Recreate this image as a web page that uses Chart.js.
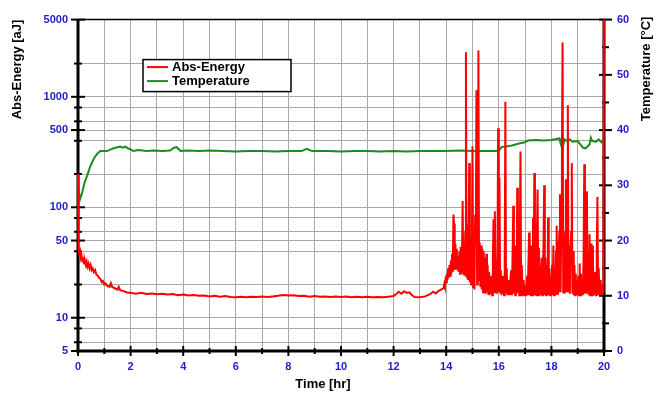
<!DOCTYPE html>
<html><head><meta charset="utf-8">
<script src="https://cdn.jsdelivr.net/npm/chart.js@4/dist/chart.umd.min.js"></script>
<style>html,body{margin:0;padding:0;background:#fff;}#wrap{width:669px;height:408px;position:relative;}</style>
</head><body><div id="wrap"><canvas id="c" width="669" height="408"></canvas></div>
<script>
// ---- data ----
const energyTime = [
 0,0.02,0.05,0.08,0.1,0.13,0.16,0.2,0.23,0.26,0.3,0.33,0.36,0.4,0.44,0.48,0.52,0.56,0.6,0.65,0.7,0.75,0.8,0.85,0.9,0.95,1.0,1.05,1.1,1.2,1.25,1.3,1.4,1.5,1.55,1.6,1.7,1.8,1.9,2.0,
 2.2,2.4,2.6,2.8,3.0,3.2,3.4,3.6,3.8,4.0,4.2,4.4,4.6,4.8,5.0,5.2,5.4,5.6,5.8,6.0,6.2,6.4,6.6,6.8,7.0,7.2,7.4,7.6,7.8,8.0,8.2,8.4,8.6,8.8,9.0,9.2,9.4,9.6,9.8,10.0,10.2,10.4,10.6,10.8,11.0,11.2,11.4,11.6,11.8,12.0,12.1,12.2,12.3,12.4,12.5,12.6,12.7,12.8,13.0,13.2,13.4,13.5,13.6,13.7,13.8,
 13.9,13.925,13.95,13.975,14.0,14.025,14.05,14.075,
 14.1,14.125,14.15,14.175,14.2,14.225,14.25,14.275,
 14.3,14.325,14.35,14.375,14.4,14.425,14.45,14.475,
 14.5,14.525,14.55,14.575,14.6,14.625,14.65,14.675,
 14.7,14.725,14.75,14.775,14.8,14.825,14.85,14.875,
 14.9,14.925,14.95,14.975,15.0,15.025,15.05,15.075,
 15.1,15.125,15.15,15.175,15.2,15.225,15.25,15.275,
 15.3,15.325,15.35,15.375,15.4,15.425,15.45,15.475,
 15.5,15.525,15.55,15.575,15.6,15.625,15.65,15.675,
 15.7,15.725,15.75,15.775,15.8,15.825,15.85,15.875,
 15.9,15.925,15.95,15.975,16.0,16.025,16.05,16.075,
 16.1,16.125,16.15,16.175,16.2,16.225,16.25,16.275,
 16.3,16.325,16.35,16.375,16.4,16.425,16.45,16.475,
 16.5,16.525,16.55,16.575,16.6,16.625,16.65,16.675,
 16.7,16.725,16.75,16.775,16.8,16.825,16.85,16.875,
 16.9,16.925,16.95,16.975,17.0,17.025,17.05,17.075,
 17.1,17.125,17.15,17.175,17.2,17.225,17.25,17.275,
 17.3,17.325,17.35,17.375,17.4,17.425,17.45,17.475,
 17.5,17.525,17.55,17.575,17.6,17.625,17.65,17.675,
 17.7,17.725,17.75,17.775,17.8,17.825,17.85,17.875,
 17.9,17.925,17.95,17.975,18.0,18.025,18.05,18.075,
 18.1,18.125,18.15,18.175,18.2,18.225,18.25,18.275,
 18.3,18.325,18.35,18.375,18.4,18.425,18.45,18.475,
 18.5,18.525,18.55,18.575,18.6,18.625,18.65,18.675,
 18.7,18.725,18.75,18.775,18.8,18.825,18.85,18.875,
 18.9,18.925,18.95,18.975,19.0,19.025,19.05,19.075,
 19.1,19.125,19.15,19.175,19.2,19.225,19.25,19.275,
 19.3,19.325,19.35,19.375,19.4,19.425,19.45,19.475,
 19.5,19.525,19.55,19.575,19.6,19.625,19.65,19.675,
 19.7,19.725,19.75,19.775,19.8,19.825,19.85,19.875,
 19.9,19.925,19.95,19.975,20.0
];
const energyValue = [
 200,42,38,40,35,37,33,34,31,33,30,32,29,31,28,30,27,28,26,27,24.5,24,23,22.5,21,21.5,20,20.5,19.5,19,20.5,19,18.5,18,19,17.8,17.5,17.2,16.8,16.8,
 16.5,16.8,16.4,16.6,16.3,16.5,16.2,16.4,16.0,16.2,15.9,16.1,15.8,15.9,15.6,15.8,15.5,15.7,15.4,15.3,15.5,15.3,15.5,15.4,15.6,15.4,15.6,15.8,16.1,15.9,16.0,15.7,15.8,15.5,15.7,15.5,15.6,15.4,15.6,15.4,15.6,15.3,15.5,15.3,15.5,15.3,15.4,15.3,15.5,15.7,16.4,17.2,16.5,17.4,16.8,17.0,16.0,15.4,15.3,15.6,16.4,17.2,16.6,17.4,18.0,
 18.5,20,19,22,21,25,22,28,
 23,30,24,33,25,38,26,86,
 71,27,47,28,42,27,36,26,
 40,25,44,26,35,114,25,48,
 24,60,2530,23,70,22,45,251,
 21,55,20,40,355,19,60,18,
 85,45,1148,20,50,2630,22,48,
 19,45,18,42,17,40,17,35,
 16.5,38,17,30,16.5,26,16,24,
 16.5,22,16,35,78,17,92,18,
 30,16.5,40,518,17,184,17,27,
 16,24,16.5,22,16,30,900,17,
 28,16,22,16,20,16,24,27,
 16,40,103,16.5,30,16,45,16.5,
 150,17,35,16,60,320,16,30,
 16,22,15.8,20,16,19,15.8,24,
 16,30,59,16,25,16,45,16,
 80,17,204,16,40,16,60,145,
 16,43,16,30,16,35,16,28,
 45,158,16,35,16,30,16,81,
 16,28,16,24,16,30,16,45,
 16,28,16,40,68,16.5,50,17,
 60,131,17,70,300,3110,17,55,
 16.5,60,179,17,120,840,17,45,
 16.5,40,60,251,16.5,40,16,30,
 16,25,16,22,16,24,16,31,
 16,25,16,22,16,40,245,16.5,
 60,17,140,16.5,35,16,57,16,
 30,47,16,45,16,26,16,22,
 16,40,124,16.5,28,16,22,16,
 20,16.5,19,17,20000
];
const tempTime = [0,0.08,0.15,0.25,0.35,0.45,0.55,0.65,0.75,0.85,0.95,1.1,1.25,1.35,1.5,1.6,1.7,1.8,1.9,2.0,2.1,2.3,2.6,2.9,3.2,3.5,3.65,3.75,3.9,4.2,4.6,5.0,5.5,6.0,6.5,7.0,7.5,8.0,8.5,8.7,8.9,9.5,10,10.5,11,11.5,12,12.5,13,13.5,14,14.5,15,15.5,16.0,16.1,16.2,16.5,16.8,17.0,17.1,17.4,17.7,18.0,18.2,18.3,18.35,18.4,18.45,18.5,18.6,18.7,18.8,19.0,19.1,19.2,19.3,19.45,19.5,19.55,19.7,19.8,19.9,20];
const tempValue = [30,27.5,28.5,30.5,31.8,33.2,34.3,35.2,35.8,36.2,36.2,36.2,36.5,36.7,36.9,37.0,36.8,37.0,36.7,36.5,36.2,36.4,36.2,36.3,36.2,36.3,36.8,36.9,36.2,36.3,36.2,36.3,36.2,36.1,36.2,36.2,36.1,36.2,36.2,36.6,36.2,36.2,36.1,36.2,36.2,36.1,36.2,36.1,36.2,36.2,36.2,36.3,36.2,36.2,36.2,36.9,37.0,37.2,37.6,37.8,38.1,38.2,38.1,38.2,38.4,38.5,37.6,38.6,37.3,38.3,38.0,38.3,37.9,38.0,37.4,36.8,36.7,37.4,38.6,38.0,37.9,38.3,37.8,38.3];
const timeTickLabels = [0,2,4,6,8,10,12,14,16,18,20];
const energyTicks = [5,6,8,10,20,40,50,60,80,100,200,400,500,600,800,1000,2000,5000];
const energyTickLabels = [5,10,50,100,500,1000,5000];
const tempTickLabels = [0,10,20,30,40,50,60];
const seriesNames = ['Abs-Energy','Temperature'];
const axisTitles = {x:'Time [hr]', y:'Abs-Energy [aJ]', y2:'Temperature [°C]'};

const FONT = 'Arial, "Liberation Sans", sans-serif';
const BLUE = '#1e1ec8';
const GRID = '#a8a8a8';

const frame = {
  id:'frame',
  beforeDatasetsDraw(chart){
    const {ctx, chartArea:a, scales} = chart;
    const ln=(x1,y1,x2,y2)=>{ctx.beginPath();ctx.moveTo(x1,y1);ctx.lineTo(x2,y2);ctx.stroke();};
    ctx.save();
    ctx.strokeStyle='#000';
    ctx.lineWidth=1.5; ln(a.left,a.top,a.right,a.top);
    ctx.lineWidth=3;
    ln(a.left,a.top,a.left,a.bottom+1.5);
    ln(a.left-1.5,a.bottom,a.right+1.5,a.bottom);
    ln(a.right,a.top,a.right,a.bottom+1.5);
    ctx.lineWidth=2;
    scales.y.ticks.forEach(t=>{const y=scales.y.getPixelForValue(t.value);const L=energyTickLabels.includes(t.value)?7:4;ln(a.left-L,y,a.left+L,y);});
    scales.y2.ticks.forEach(t=>{const y=scales.y2.getPixelForValue(t.value);const L=tempTickLabels.includes(t.value)?8:5;ln(a.right-L+3,y,a.right+L,y);});
    scales.x.ticks.forEach(t=>{const x=scales.x.getPixelForValue(t.value);const L=timeTickLabels.includes(t.value)?5:3;ln(x,a.bottom-L,x,a.bottom+L);});
    ctx.restore();
  },
  afterDraw(chart){
    const {ctx, chartArea:a} = chart;
    ctx.save();
    ctx.fillStyle='#000';ctx.font='bold 13px '+FONT;
    // x axis title
    ctx.textAlign='center';ctx.textBaseline='middle';
    ctx.fillText(axisTitles.x,(a.left+a.right)/2-18,a.bottom+33);
    // right axis title (reads bottom-to-top, top-aligned)
    ctx.save();
    ctx.translate(a.right+42,a.top-3);ctx.rotate(-Math.PI/2);
    ctx.textAlign='right';ctx.textBaseline='middle';
    ctx.fillText(axisTitles.y2,0,0);
    ctx.restore();
    // legend
    const bx=a.left+65, by=a.top+40, bw=148, bh=32;
    ctx.fillStyle='#fff';ctx.fillRect(bx,by,bw,bh);
    ctx.strokeStyle='#000';ctx.lineWidth=1.5;ctx.strokeRect(bx,by,bw,bh);
    chart.data.datasets.forEach((d,i)=>{
      const y=by+7.5+i*14;
      ctx.strokeStyle=d.borderColor;ctx.lineWidth=2;
      ctx.beginPath();ctx.moveTo(bx+4,y);ctx.lineTo(bx+25,y);ctx.stroke();
      ctx.fillStyle='#000';ctx.font='bold 13px '+FONT;ctx.textAlign='left';ctx.textBaseline='middle';
      ctx.fillText(d.label,bx+29,y+0.5);
    });
    ctx.restore();
  }
};

const tickFont={family:FONT,size:11,weight:'bold'};
new Chart(document.getElementById('c'),{
  type:'line',
  data:{datasets:[
    {label:seriesNames[0],data:energyTime.map((t,i)=>({x:t,y:energyValue[i]})),borderColor:'#ff0000',borderWidth:2,pointRadius:0,tension:0,yAxisID:'y',clip:{left:3,right:3,top:0,bottom:0}},
    {label:seriesNames[1],data:tempTime.map((t,i)=>({x:t,y:tempValue[i]})),borderColor:'#1f8a1f',borderWidth:2,pointRadius:0,tension:0,yAxisID:'y2'}
  ]},
  options:{
    responsive:false,animation:false,devicePixelRatio:1,
    layout:{padding:{top:17,left:0,right:0,bottom:0}},
    plugins:{legend:{display:false},tooltip:{enabled:false}},
    scales:{
      x:{type:'linear',position:'bottom',min:0,max:20,
        afterFit(s){s.height=57;},
        ticks:{stepSize:1,autoSkip:false,maxRotation:0,padding:9,color:BLUE,font:tickFont,callback:v=>timeTickLabels.includes(v)?String(v):''},
        grid:{color:GRID,lineWidth:1,drawTicks:false},border:{display:false}},
      y:{type:'logarithmic',position:'left',min:5,max:5000,
        afterFit(s){s.width=78;},
        afterBuildTicks(s){s.ticks=energyTicks.map(v=>({value:v}));},
        ticks:{autoSkip:false,padding:10,color:BLUE,font:tickFont,callback:v=>energyTickLabels.includes(v)?String(v):''},
        grid:{color:GRID,lineWidth:1,drawTicks:false},border:{display:false},
        title:{display:true,text:axisTitles.y,align:'end',color:'#000',font:{family:FONT,size:13,weight:'bold'},padding:{top:10,bottom:0}}},
      y2:{type:'linear',position:'right',min:0,max:60,
        afterFit(s){s.width=65;},
        ticks:{stepSize:5,autoSkip:false,padding:13,color:BLUE,font:tickFont,callback:v=>tempTickLabels.includes(v)?String(v):''},
        grid:{drawOnChartArea:false,drawTicks:false},border:{display:false}}
    }
  },
  plugins:[frame]
});
</script></body></html>
